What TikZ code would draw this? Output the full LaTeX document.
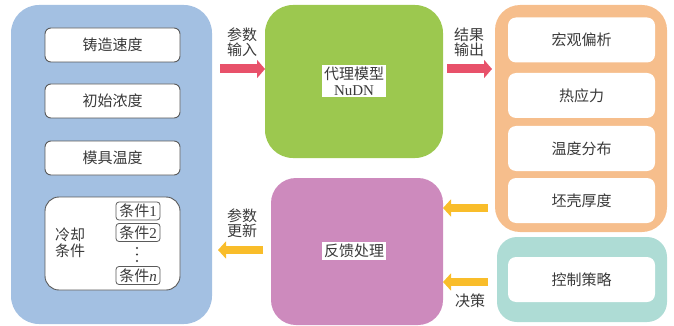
\documentclass[tikz,border=0pt]{standalone}
\usepackage{fontspec}
\setmainfont{Liberation Serif}
\newfontfamily\cjk{Noto Sans CJK SC}
\usetikzlibrary{arrows.meta}
\definecolor{cblue}{HTML}{A3C0E2}
\definecolor{cgreen}{HTML}{9CC84F}
\definecolor{corange}{HTML}{F6BE8C}
\definecolor{cpurple}{HTML}{CD8ABD}
\definecolor{cteal}{HTML}{AEDCD5}
\definecolor{cred}{HTML}{E8516A}
\definecolor{cyellow}{HTML}{F9BD2A}
\definecolor{txt}{HTML}{3A3A3A}
\definecolor{bord}{HTML}{5A5A5A}
\newcommand\lat[1]{{\rmfamily #1}}
\tikzset{
  panel/.style={inner sep=0pt, outer sep=0pt, draw=none, rounded corners=#1},
  panel/.default=28pt,
  inbox/.style={fill=white, draw=bord, line width=0.9pt, rounded corners=6pt,
    minimum width=135pt, minimum height=34pt, inner sep=0pt,
    font=\cjk\fontsize{15}{17}\selectfont, text=txt},
  obox/.style={fill=white, draw=none, rounded corners=8pt,
    minimum width=147pt, minimum height=45pt, inner sep=0pt,
    font=\cjk\fontsize{15}{17}\selectfont, text=txt},
  subbox/.style={fill=white, draw=bord, line width=0.8pt, rounded corners=3pt,
    minimum width=44pt, minimum height=18pt, inner sep=0pt,
    font=\cjk\fontsize{15}{17}\selectfont, text=txt},
  lbl/.style={align=center, inner sep=0pt, font=\cjk\fontsize{15}{15}\selectfont, text=txt},
  ctext/.style={align=center, fill=white, inner sep=2pt, font=\cjk\fontsize{15}{16}\selectfont, text=txt},
  dotmark/.style={fill=txt, draw=none},
  redarr/.style={draw=cred, line width=9pt, -{Triangle[length=8pt,width=18pt]}},
  yelarr/.style={draw=cyellow, line width=8pt, -{Triangle[length=8pt,width=17pt]}},
}
\begin{document}
\begin{tikzpicture}[x=1pt,y=-1pt]
\useasboundingbox (0,0) rectangle (674,326);
% panels
\node[panel, fill=cblue, minimum width=201pt, minimum height=319pt] (blue) at (111.5,164.5) {};
\node[panel, fill=cgreen, minimum width=178pt, minimum height=153pt] (green) at (354,81.5) {};
\node[panel=25pt, fill=corange, minimum width=172pt, minimum height=227pt] (orange) at (581,118.5) {};
\node[panel=20pt, fill=cteal, minimum width=170pt, minimum height=85pt] (teal) at (582,279.5) {};
\node[panel=25pt, fill=cpurple, minimum width=172pt, minimum height=147pt] (purple) at (357,251.5) {};
% left inputs
\node[inbox] (v1) at (112.5,45) {铸造速度};
\node[inbox] (v2) at (112.5,101) {初始浓度};
\node[inbox] (v3) at (112.5,158) {模具温度};
\node[inbox, rounded corners=14pt, minimum height=93pt] (v4) at (112.5,243.5) {};
\node[lbl, font=\cjk\fontsize{15}{16}\selectfont] (cool) at (70,243) {冷却\\条件};
\node[subbox] (c1) at (138,211) {条件\lat{1}};
\node[subbox] (c2) at (138,232.5) {条件\lat{2}};
\node[subbox] (cn) at (138,275.5) {条件\lat{\itshape n}};
\fill[dotmark] (137,248) circle (1.1pt) (137,254.5) circle (1.1pt) (137,261) circle (1.1pt);
% centre texts
\node[ctext] (model) at (354,81) {代理模型\\\lat{NuDN}};
\node[ctext] (fb) at (354,251) {反馈处理};
% right outputs
\node[obox] (o1) at (581.5,40) {宏观偏析};
\node[obox] (o2) at (581.5,95.5) {热应力};
\node[obox] (o3) at (581.5,148.5) {温度分布};
\node[obox] (o4) at (581.5,200.5) {坯壳厚度};
\node[obox] (ctl) at (581.5,279.5) {控制策略};
% arrows
\coordinate (ya) at (0,69);
\coordinate (yb) at (0,208);
\coordinate (yc) at (0,282);
\coordinate (yd) at (0,250);
\draw[redarr] ([xshift=8pt]blue.east |- ya) -- (green.west |- ya);
\draw[redarr] ([xshift=4pt]green.east |- ya) -- ([xshift=-3pt]orange.west |- ya);
\draw[yelarr] ([xshift=-7pt]orange.west |- yb) -- (purple.east |- yb);
\draw[yelarr] ([xshift=-9pt]teal.west |- yc) -- (purple.east |- yc);
\draw[yelarr] ([xshift=-8pt]purple.west |- yd) -- ([xshift=6pt]blue.east |- yd);
% labels
\node[lbl] (l1) at (242,42) {参数\\输入};
\node[lbl] (l2) at (469,42) {结果\\输出};
\node[lbl] (l3) at (242,223) {参数\\更新};
\node[lbl] (l4) at (470,301) {决策};
\end{tikzpicture}
\end{document}
